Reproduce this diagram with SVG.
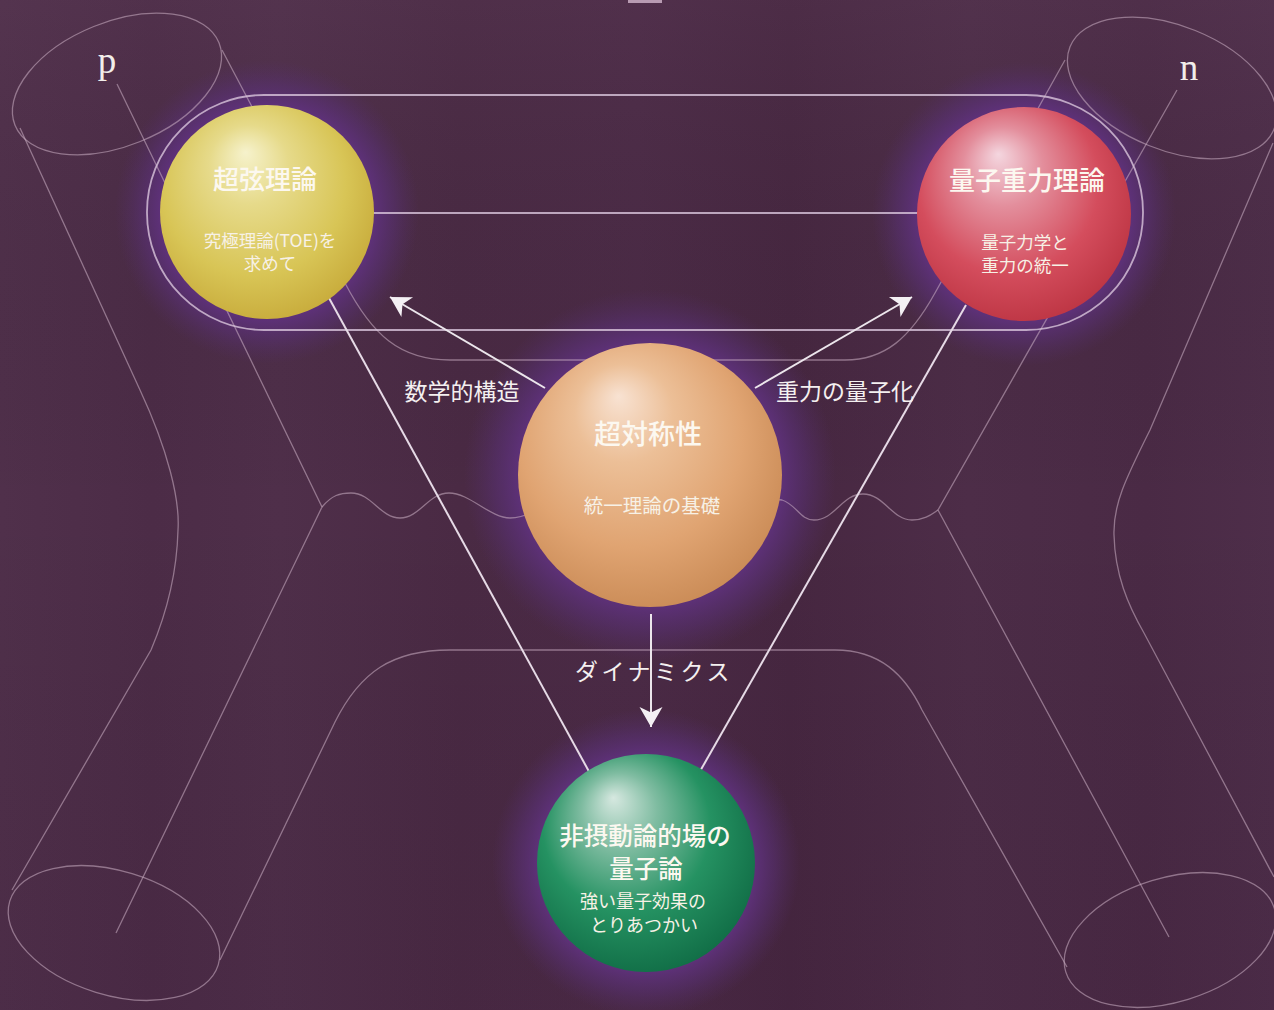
<svg xmlns="http://www.w3.org/2000/svg" width="1274" height="1010" viewBox="0 0 1274 1010">
  <defs>
    <style>
      .tube { fill: none; stroke: #cdb3c6; stroke-opacity: 0.55; stroke-width: 1.3; }
      .tube-bright { fill: none; stroke: #d9c6dc; stroke-opacity: 0.8; stroke-width: 1.8; }
      .link { fill: none; stroke: #e6dae6; stroke-width: 2; }
      .arrow { fill: none; stroke: #ece6ec; stroke-width: 2; marker-end: url(#arrowhead); }
      .title { font-family: "Noto Sans CJK JP", "Noto Sans CJK SC", sans-serif; font-weight: 500; fill: #fcf8f0; text-anchor: middle; }
      .sub { font-family: "Noto Sans CJK JP", "Noto Sans CJK SC", sans-serif; font-weight: 400; fill: #f7f1e6; text-anchor: middle; }
      .edge-label { font-family: "Noto Sans CJK JP", "Noto Sans CJK SC", sans-serif; font-size: 23px; fill: #f4f0f0; text-anchor: middle; }
      .quark { font-family: "Liberation Serif", serif; font-size: 37px; fill: #f2eeea; text-anchor: middle; }
    </style>

    <linearGradient id="bgBands" x1="0" y1="0" x2="1" y2="0">
      <stop offset="0" stop-color="#50304b"/>
      <stop offset="0.12" stop-color="#4c2c47"/>
      <stop offset="0.22" stop-color="#4f2f4a"/>
      <stop offset="0.36" stop-color="#4a2a44"/>
      <stop offset="0.5" stop-color="#4c2b47"/>
      <stop offset="0.62" stop-color="#472741"/>
      <stop offset="0.76" stop-color="#4d2d48"/>
      <stop offset="0.9" stop-color="#4a2a45"/>
      <stop offset="1" stop-color="#4e2e4a"/>
    </linearGradient>
    <linearGradient id="bgShade" x1="0" y1="0" x2="0" y2="1">
      <stop offset="0" stop-color="#6a4a64" stop-opacity="0.16"/>
      <stop offset="0.5" stop-color="#000000" stop-opacity="0"/>
      <stop offset="1" stop-color="#2a0f2a" stop-opacity="0.1"/>
    </linearGradient>

    <radialGradient id="halo">
      <stop offset="0.7" stop-color="#5e3179" stop-opacity="1"/>
      <stop offset="0.84" stop-color="#583073" stop-opacity="0.55"/>
      <stop offset="1" stop-color="#522e66" stop-opacity="0"/>
    </radialGradient>

    <radialGradient id="ballYellow" cx="0.45" cy="0.42" r="0.62" fx="0.4" fy="0.22">
      <stop offset="0" stop-color="#f6f2cc"/>
      <stop offset="0.3" stop-color="#e6da8a"/>
      <stop offset="0.7" stop-color="#d8c556"/>
      <stop offset="1" stop-color="#c7aa3a"/>
    </radialGradient>
    <radialGradient id="ballRed" cx="0.45" cy="0.42" r="0.62" fx="0.38" fy="0.22">
      <stop offset="0" stop-color="#f4d6df"/>
      <stop offset="0.3" stop-color="#e38e9c"/>
      <stop offset="0.68" stop-color="#d44d5d"/>
      <stop offset="1" stop-color="#bc3442"/>
    </radialGradient>
    <radialGradient id="ballOrange" cx="0.45" cy="0.42" r="0.62" fx="0.38" fy="0.2">
      <stop offset="0" stop-color="#f8e2d2"/>
      <stop offset="0.3" stop-color="#ecbf97"/>
      <stop offset="0.68" stop-color="#e0a472"/>
      <stop offset="1" stop-color="#c98a55"/>
    </radialGradient>
    <radialGradient id="ballGreen" cx="0.45" cy="0.42" r="0.62" fx="0.35" fy="0.2">
      <stop offset="0" stop-color="#d6e8e0"/>
      <stop offset="0.28" stop-color="#7fbca1"/>
      <stop offset="0.62" stop-color="#259262"/>
      <stop offset="1" stop-color="#106c45"/>
    </radialGradient>

    <marker id="arrowhead" viewBox="-21 -12 22 24" refX="0" refY="0" markerWidth="22" markerHeight="24" markerUnits="userSpaceOnUse" orient="auto">
      <path d="M0,0 L-20,-11.5 L-14.5,0 L-20,11.5 Z" fill="#f4f0f4"/>
    </marker>
  </defs>

  <!-- paper background -->
  <rect width="1274" height="1010" fill="url(#bgBands)"/>
  <rect width="1274" height="1010" fill="url(#bgShade)"/>
  <rect x="628" y="0" width="34" height="3" fill="#b89bb2"/>

  <!-- soft violet glow behind each sphere -->
  <g id="halos">
    <circle cx="267" cy="212" r="152" fill="url(#halo)"/>
    <circle cx="1024" cy="214" r="152" fill="url(#halo)"/>
    <circle cx="650" cy="475" r="186" fill="url(#halo)"/>
    <circle cx="646" cy="863" r="154" fill="url(#halo)"/>
  </g>

  <!-- flux tubes of the p and n -->
  <g id="tubes">
    <ellipse class="tube" cx="117" cy="84" rx="110" ry="62" transform="rotate(-22 117 84)"/>
    <ellipse class="tube" cx="1172" cy="88" rx="110" ry="62" transform="rotate(22 1172 88)"/>
    <ellipse class="tube" cx="114" cy="933" rx="109" ry="62" transform="rotate(17 114 933)"/>
    <ellipse class="tube" cx="1170" cy="940" rx="109" ry="62" transform="rotate(-17 1170 940)"/>

    <!-- outer contours -->
    <path class="tube" d="M20,128 L140,390 C168,450 180,500 178,530 C177,570 168,610 151,650 L12,890"/>
    <path class="tube" d="M1273,143 L1150,430 C1125,480 1113,505 1114,535 C1115,575 1128,605 1144,633 L1274,877"/>

    <!-- inner contour joining the two upper ends -->
    <path class="tube" d="M222,50 L345,283 C372,335 400,360 450,360 L845,360 C885,360 910,338 935,293 L1065,60"/>

    <!-- lower tube -->
    <path class="tube" d="M220,960 L335,722 C360,672 392,650 450,650 L835,650 C880,650 905,675 922,710 L1067,967"/>

    <!-- tube axes -->
    <path class="tube" d="M117,84 L322,507 L116,933"/>
    <path class="tube" d="M1177,90 L938,510 L1169,937"/>

    <!-- gluon wave between the bends -->
    <path class="tube" d="M322,507 C332,495 340,493 351,493 C372,493 380,518 400,518 C420,518 428,493 449,493 C470,493 490,518 510,518 C530,518 540,505 560,505"/>
    <path class="tube" d="M740,505 C760,505 770,497 782,500 C797,505 800,520 814,520 C835,520 842,494 863,494 C884,494 892,520 912,520 C925,520 932,514 938,510"/>

    <!-- top tube (rounded band with centre line) -->
    <rect class="tube-bright" x="147" y="95" width="996" height="235" rx="117" ry="117"/>
    <line class="tube-bright" x1="260" y1="213" x2="1030" y2="213"/>
  </g>

  <!-- connectors -->
  <g id="connectors">
    <line class="link" x1="329" y1="298" x2="592" y2="777"/>
    <line class="link" x1="966" y1="305" x2="699" y2="773"/>
    <line class="arrow" x1="545" y1="388" x2="390" y2="297"/>
    <line class="arrow" x1="755" y1="388" x2="912" y2="297"/>
    <line class="arrow" x1="651" y1="614" x2="651" y2="727"/>
  </g>

  <!-- nodes -->
  <g id="node-superstring">
    <circle cx="267" cy="212" r="107" fill="url(#ballYellow)"/>
    <text class="title" x="265" y="189" font-size="26">超弦理論</text>
    <text class="sub" x="270" y="247" font-size="17.5">究極理論(TOE)を</text>
    <text class="sub" x="270" y="270" font-size="17.5">求めて</text>
  </g>

  <g id="node-quantum-gravity">
    <circle cx="1024" cy="214" r="107" fill="url(#ballRed)"/>
    <text class="title" x="1027" y="190" font-size="26">量子重力理論</text>
    <text class="sub" x="1025" y="249" font-size="17.5">量子力学と</text>
    <text class="sub" x="1025" y="272" font-size="17.5">重力の統一</text>
  </g>

  <g id="node-supersymmetry">
    <circle cx="650" cy="475" r="132" fill="url(#ballOrange)"/>
    <text class="title" x="648" y="444" font-size="27">超対称性</text>
    <text class="sub" x="652" y="513" font-size="19.5">統一理論の基礎</text>
  </g>

  <g id="node-nonperturbative">
    <circle cx="646" cy="863" r="109" fill="url(#ballGreen)"/>
    <text class="title" x="645" y="845" font-size="24.5">非摂動論的場の</text>
    <text class="title" x="646" y="878" font-size="24.5">量子論</text>
    <text class="sub" x="643" y="908" font-size="18">強い量子効果の</text>
    <text class="sub" x="644" y="932" font-size="18">とりあつかい</text>
  </g>

  <!-- labels -->
  <g id="labels">
    <text class="quark" x="107" y="73">p</text>
    <text class="quark" x="1189" y="80">n</text>
    <text class="edge-label" x="462" y="400">数学的構造</text>
    <text class="edge-label" x="845" y="400">重力の量子化</text>
    <text class="edge-label" x="654" y="680" font-size="21" letter-spacing="3.5">ダイナミクス</text>
  </g>
</svg>
